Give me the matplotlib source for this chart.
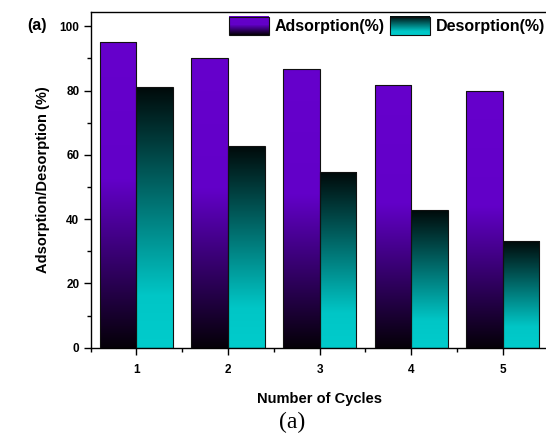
import numpy as np
import matplotlib
matplotlib.use("Agg")
import matplotlib.pyplot as plt
from matplotlib.colors import LinearSegmentedColormap
from matplotlib.legend_handler import HandlerBase
from matplotlib.image import BboxImage
from matplotlib.transforms import Bbox, TransformedBbox
from matplotlib.patches import Rectangle

cycles = [1, 2, 3, 4, 5]
adsorption = [95.0, 90.2, 86.8, 81.8, 80.0]
desorption = [81.0, 62.8, 54.6, 42.8, 33.2]
series_names = ["Adsorption(%)", "Desorption(%)"]

plt.rcParams["font.family"] = ["Liberation Sans", "DejaVu Sans"]

# purple fades to black toward the base, cyan fades to black toward the top
ads_cmap = LinearSegmentedColormap.from_list(
    "ads", [(0.0, "#050008"), (0.55, "#6200c8"), (1.0, "#6600cc")])
des_cmap = LinearSegmentedColormap.from_list(
    "des", [(0.0, "#00cccc"), (0.2, "#00c6c6"), (1.0, "#000a0a")])

grad = np.linspace(0, 1, 256).reshape(-1, 1)


def gradient_bars(ax, xs, heights, width, cmap):
    bars = ax.bar(xs, heights, width, facecolor="none", edgecolor="#111111",
                  linewidth=0.8, zorder=3)
    for rect, h in zip(bars, heights):
        x0 = rect.get_x()
        im = ax.imshow(grad, cmap=cmap, origin="lower", aspect="auto",
                       extent=(x0, x0 + rect.get_width(), 0, h),
                       interpolation="bilinear", zorder=2)
        im.set_clip_path(rect)
    return bars


class GradientHandler(HandlerBase):
    def __init__(self, cmap):
        super().__init__()
        self.cmap = cmap

    def create_artists(self, legend, orig_handle, xdescent, ydescent,
                       width, height, fontsize, trans):
        bb = Bbox.from_bounds(-xdescent, -ydescent, width, height)
        img = BboxImage(TransformedBbox(bb, trans), cmap=self.cmap,
                        interpolation="bilinear", origin="lower")
        img.set_data(grad)
        frame = Rectangle((-xdescent, -ydescent), width, height, fill=False,
                          edgecolor="#111111", linewidth=0.8, transform=trans)
        return [img, frame]


fig = plt.figure(figsize=(5.46, 4.36), dpi=100)
ax = fig.add_axes([0.1658, 0.2025, 0.839, 0.771])

x = np.array(cycles, dtype=float)
w = 0.4
b1 = gradient_bars(ax, x - w / 2, adsorption, w, ads_cmap)
b2 = gradient_bars(ax, x + w / 2, desorption, w, des_cmap)

ax.set_xlim(0.5, 5.5)
ax.set_ylim(0, 104.6)
ax.set_xticks(cycles)
ax.set_xticks(np.arange(0.5, 6.0, 1.0), minor=True)
ax.set_yticks(np.arange(0, 101, 20))
ax.set_yticks(np.arange(10, 101, 20), minor=True)
ax.tick_params(which="major", direction="out", length=5, width=1.0,
               labelsize=8.5, pad=3)
ax.tick_params(which="minor", direction="out", length=3, width=1.0)
ax.tick_params(axis="x", which="major", pad=7)
for lab in ax.get_xticklabels() + ax.get_yticklabels():
    lab.set_fontweight("bold")
for sp in ax.spines.values():
    sp.set_linewidth(1.0)

ax.set_xlabel("Number of Cycles", fontsize=10.5, fontweight="bold", labelpad=11)
ax.set_ylabel("Adsorption/Desorption (%)", fontsize=10.5, fontweight="bold",
              labelpad=7)

h1 = Rectangle((0, 0), 1, 1)
h2 = Rectangle((0, 0), 1, 1)
ax.legend([h1, h2], series_names, ncol=2, loc="upper right",
          bbox_to_anchor=(0.995, 0.99), frameon=False,
          prop={"weight": "bold", "size": 11.5}, handlelength=2.5,
          handleheight=1.4, handletextpad=0.35, columnspacing=0.35,
          borderpad=0.1, borderaxespad=0.0,
          handler_map={h1: GradientHandler(ads_cmap),
                       h2: GradientHandler(des_cmap)})

fig.text(0.05, 0.942, "(a)", fontsize=11.5, fontweight="bold",
         ha="left", va="center")
fig.text(292 / 546, 1 - 422 / 436, "(a)", fontsize=17,
         family=["Liberation Serif", "DejaVu Serif"], ha="center", va="center")

fig.savefig("out.png", dpi=100)
